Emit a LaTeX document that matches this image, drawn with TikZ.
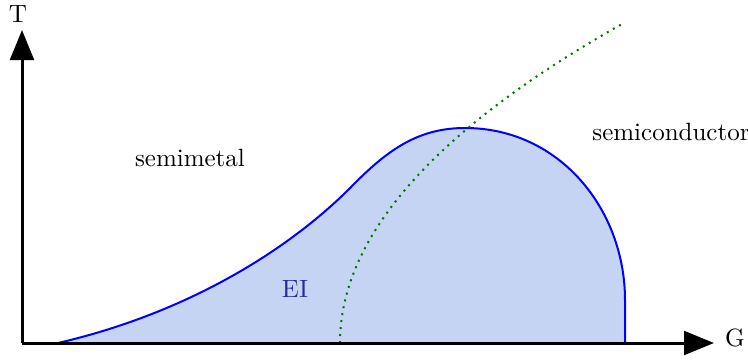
\documentclass[tikz,border=0pt]{standalone}
\usetikzlibrary{arrows.meta}
\definecolor{eifill}{RGB}{198,212,244}
\definecolor{eitext}{RGB}{40,40,160}
\begin{document}
\begin{tikzpicture}[x=0.4pt,y=-0.4pt,
  axis/.style={line width=1.2pt,-{Triangle[length=12pt,width=9.5pt]}},
  phase/.style={thick,blue},
  crossover/.style={dotted,thick,green!45!black}]
  \useasboundingbox (0,0) rectangle (748,361);
  % 軸
  \coordinate (O) at (22,343);
  \coordinate (Tend) at (22,30);
  \coordinate (Gend) at (714,343);
  % EI 相の境界
  \coordinate (A) at (58,343);
  \coordinate (B) at (355,183);
  \coordinate (C) at (465,128);
  \coordinate (D) at (625,300);
  \coordinate (E) at (625,343);
  \fill[eifill] (A) .. controls (200,310) and (300,240) .. (B)
    .. controls (390,148) and (420,128) .. (C)
    .. controls (560,128) and (625,210) .. (D) -- (E) -- cycle;
  \draw[phase] (A) .. controls (200,310) and (300,240) .. (B)
    .. controls (390,148) and (420,128) .. (C)
    .. controls (560,128) and (625,210) .. (D) -- (E);
  % クロスオーバー (放物線)
  \coordinate (P0) at (340,343);
  \coordinate (P1) at (622,24);
  \draw[crossover] (P0) .. controls (340,237) and (434,130) .. (P1);
  \draw[axis] (O) -- (Tend);
  \draw[axis] (O) -- (Gend);
  \node (T) at (18,14) {T};
  \node (G) at (735,338) {G};
  \node (semimetal) at (190,158) {semimetal};
  \node (semicond) at (671,132) {semiconductor};
  \node[text=eitext] (EI) at (295,289) {EI};
\end{tikzpicture}
\end{document}
